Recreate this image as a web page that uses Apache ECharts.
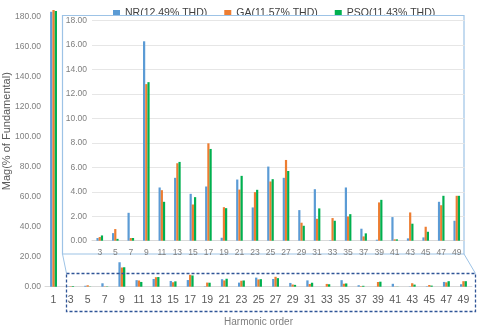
<!DOCTYPE html>
<html>
<head>
<meta charset="utf-8">
<title>Harmonic spectrum</title>
<script src="https://cdn.jsdelivr.net/npm/echarts@6/dist/echarts.min.js"></script>
<style>
	html,body{margin:0;padding:0;background:#fff;}
	#main{width:480px;height:330px;}
</style>
</head>
<body>
<div id="main"></div>
<script type="text/javascript">
	// harmonic orders
	var orders = ['1','3','5','7','9','11','13','15','17','19','21','23','25','27','29','31','33','35','37','39','41','43','45','47','49'];
	var legendNames = ['NR(12.49% THD)','GA(11.57% THD)','PSO(11.43% THD)'];
	// magnitudes, % of fundamental (orders 3..49)
	var nrHarm  = [0.22,0.62,2.28,16.3,4.35,5.14,3.83,4.43,0.24,5.0,2.72,6.06,5.14,2.5,4.21,0.03,4.35,0.98,0.08,1.93,0.19,0.27,3.18,1.63];
	var gaHarm  = [0.3,0.95,0.22,12.8,4.13,6.33,2.96,7.96,2.74,4.18,3.97,4.84,6.6,1.47,1.79,1.85,1.98,0.35,3.13,0.11,2.31,1.14,2.9,3.67];
	var psoHarm = [0.43,0.15,0.22,12.96,3.18,6.44,3.56,7.5,2.66,5.3,4.16,5.03,5.7,1.22,2.64,1.63,2.17,0.6,3.34,0.11,1.39,0.73,3.67,3.67];
	// first bar (order 1)
	var fund = [183.3,184.5,183.8];
	var colors = ['#5B9BD5','#ED7D31','#00B050'];

	var FONT = 'Liberation Sans';
	var chart = echarts.init(document.getElementById('main'));

	var seriesList = [];
	var allHarm = [nrHarm, gaHarm, psoHarm];
	for(var i=0;i<3;i++){
		// main chart: fundamental + the same harmonics
		seriesList.push({
			name: legendNames[i],
			type: 'bar',
			xAxisIndex: 0, yAxisIndex: 0,
			data: [fund[i]].concat(allHarm[i]),
			barWidth: 2.3,
			barGap: '0%',
			itemStyle: {color: colors[i]},
			z: 2
		});
		// zoomed inset
		seriesList.push({
			name: legendNames[i],
			type: 'bar',
			xAxisIndex: 1, yAxisIndex: 1,
			data: allHarm[i],
			barWidth: 2.2,
			barGap: '0%',
			itemStyle: {color: colors[i]},
			z: 12
		});
	}

	var option = {
		animation: false,
		color: colors,
		legend: {
			data: legendNames,
			left: 108,
			top: 3,
			itemWidth: 7,
			itemHeight: 7,
			itemGap: 17,
			icon: 'rect',
			textStyle: {fontFamily: FONT, fontSize: 10.5, color: '#404040'}
		},
		grid: [
			{left: 45, right: 8, top: 1.7, bottom: 43.3, outerBoundsMode: 'none'},
			{left: 92, right: 15.5, top: 20.5, bottom: 89.3, outerBoundsMode: 'none'}
		],
		xAxis: [
			{
				type: 'category',
				gridIndex: 0,
				data: orders,
				axisLine: {lineStyle: {color: '#d9d9d9'}},
				axisTick: {show: false},
				axisLabel: {fontFamily: FONT, fontSize: 10.5, color: '#595959', margin: 8, interval: 0},
				name: 'Harmonic order',
				nameLocation: 'middle',
				nameGap: 31,
				nameMoveOverlap: false,
				nameTextStyle: {fontFamily: FONT, fontSize: 10, color: '#7f7f7f'}
			},
			{
				type: 'category',
				gridIndex: 1,
				data: orders.slice(1),
				z: 10,
				axisLine: {lineStyle: {color: '#d9d9d9'}},
				axisTick: {show: false},
				axisLabel: {fontFamily: FONT, fontSize: 8.5, color: '#7f7f7f', margin: 7, interval: 0}
			}
		],
		yAxis: [
			{
				type: 'value',
				gridIndex: 0,
				min: 0, max: 190, interval: 20,
				splitLine: {show: false},
				axisLine: {show: false},
				axisTick: {show: false},
				axisLabel: {
					fontFamily: FONT, fontSize: 8.5, color: '#7f7f7f', margin: 4, showMaxLabel: false,
					formatter: function(v){ return v.toFixed(2); }
				},
				name: 'Mag(% of Fundamental)',
				nameLocation: 'middle',
				nameGap: 33,
				nameMoveOverlap: false,
				nameTextStyle: {fontFamily: FONT, fontSize: 11, color: '#595959', padding: [0, 0, 0, 26]}
			},
			{
				type: 'value',
				gridIndex: 1,
				min: 0, max: 18, interval: 2,
				z: 10,
				splitLine: {lineStyle: {color: '#e6e6e6'}},
				axisLine: {show: false},
				axisTick: {show: false},
				axisLabel: {
					fontFamily: FONT, fontSize: 8.5, color: '#7f7f7f', margin: 5,
					formatter: function(v){ return v.toFixed(2); }
				}
			}
		],
		graphic: [
			// inset frame
			{type: 'rect', z: 5, shape: {x: 62.5, y: 15.5, width: 401.5, height: 238.5},
				style: {fill: '#fff', stroke: '#9DC3E6', lineWidth: 1.2}},
			// connectors to the dashed region
			{type: 'line', z: 5, shape: {x1: 62.5, y1: 254, x2: 66.5, y2: 273.5}, style: {stroke: '#9DC3E6', lineWidth: 1}},
			{type: 'line', z: 5, shape: {x1: 464, y1: 254, x2: 475.5, y2: 273.5}, style: {stroke: '#9DC3E6', lineWidth: 1}},
			// dashed highlight box
			{type: 'rect', z: 5, shape: {x: 66.5, y: 273.5, width: 409, height: 38},
				style: {fill: 'none', stroke: '#2F5597', lineWidth: 1.3, lineDash: [3, 2]}}
		],
		series: seriesList
	};
	chart.setOption(option);
</script>
</body>
</html>
